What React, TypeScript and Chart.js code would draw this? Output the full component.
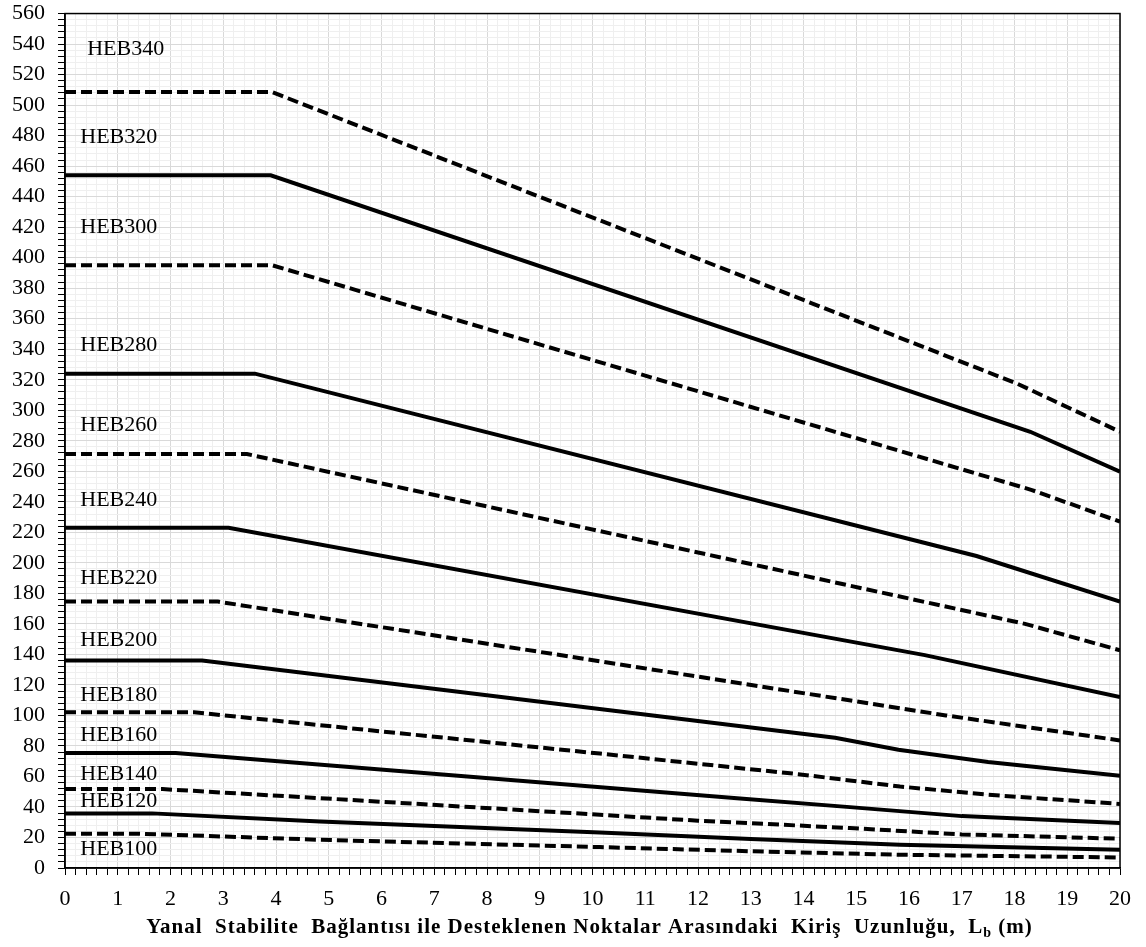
import { useEffect, useRef } from 'react';
import { Chart, registerables } from 'chart.js';

Chart.register(...registerables);

const seriesNames = ['HEB100', 'HEB120', 'HEB140', 'HEB160', 'HEB180', 'HEB200', 'HEB220', 'HEB240', 'HEB260', 'HEB280', 'HEB300', 'HEB320', 'HEB340'];

// Lb (m) and moment values for each profile
const heb100Lb = [0, 1.4, 4.83, 10.14, 13, 15.83, 20];
const heb100M = [22.5, 22.5, 18.5, 13.7, 11, 8.7, 6.9];
const heb120Lb = [0, 1.65, 4.83, 10.14, 13, 15.83, 20];
const heb120M = [35.8, 35.8, 30.5, 23.3, 19, 15.3, 12];
const heb140Lb = [0, 1.85, 4.83, 10.14, 12, 14.88, 17, 20];
const heb140M = [51.7, 51.7, 45.8, 34.9, 31, 26.2, 22, 19.2];
const heb160Lb = [0, 2.1, 12.8, 14.88, 17, 20];
const heb160M = [75.3, 75.3, 45.5, 39.9, 34, 29.5];
const heb180Lb = [0, 2.45, 10.14, 13.9, 15.83, 17.5, 20];
const heb180M = [102, 102, 75, 61.5, 53.4, 48, 42];
const heb200Lb = [0, 2.6, 14.6, 15.8, 17.5, 20];
const heb200M = [136, 136, 85.3, 77.5, 69.5, 60.5];
const heb220Lb = [0, 2.9, 16.7, 20];
const heb220M = [174.6, 174.6, 100, 83.6];
const heb240Lb = [0, 3.1, 16.3, 20];
const heb240M = [223, 223, 139.5, 112];
const heb260Lb = [0, 3.45, 18.2, 20];
const heb260M = [271.3, 271.3, 160, 142.7];
const heb280Lb = [0, 3.6, 17.28, 20];
const heb280M = [324, 324, 204.5, 174.6];
const heb300Lb = [0, 3.92, 18.33, 20];
const heb300M = [395.1, 395.1, 247.7, 227];
const heb320Lb = [0, 3.9, 18.3, 20];
const heb320M = [454, 454, 285.9, 259.7];
const heb340Lb = [0, 3.92, 18.04, 20];
const heb340M = [508.6, 508.6, 317.6, 285.9];

const seriesLb = [heb100Lb, heb120Lb, heb140Lb, heb160Lb, heb180Lb, heb200Lb, heb220Lb, heb240Lb, heb260Lb, heb280Lb, heb300Lb, heb320Lb, heb340Lb];
const seriesM = [heb100M, heb120M, heb140M, heb160M, heb180M, heb200M, heb220M, heb240M, heb260M, heb280M, heb300M, heb320M, heb340M];

// label anchor positions (data units)
const labelLb = [0.29, 0.29, 0.29, 0.29, 0.29, 0.29, 0.29, 0.29, 0.29, 0.29, 0.29, 0.29, 0.42];
const labelM = [12.4, 43.6, 61.2, 86.7, 113.5, 149.5, 189.9, 241.2, 290.3, 342.7, 420, 479.1, 536.3];

const xMin = 0, xMax = 20, xMinorStep = 0.2;
const yMin = 0, yMax = 560, yMinorStep = 4, yMajorStep = 20;

const FONT = "'Liberation Serif', 'Times New Roman', serif";

const overlayPlugin = {
  id: 'overlay',
  afterDraw(chart: any) {
    const { ctx, chartArea, scales } = chart;
    ctx.save();
    // frame
    ctx.strokeStyle = '#000';
    ctx.lineWidth = 1.5;
    ctx.strokeRect(chartArea.left, chartArea.top, chartArea.right - chartArea.left, chartArea.bottom - chartArea.top);
    // series labels
    ctx.fillStyle = '#000';
    ctx.font = `22px ${FONT}`;
    ctx.textAlign = 'left';
    ctx.textBaseline = 'middle';
    seriesNames.forEach((n, i) => {
      ctx.fillText(n, scales.x.getPixelForValue(labelLb[i]), scales.y.getPixelForValue(labelM[i]));
    });
    // axis title with subscript
    const bold = `bold 21px ${FONT}`;
    const sub = `bold 14px ${FONT}`;
    const main = 'Yanal  Stabilite  Bağlantısı ile Desteklenen Noktalar Arasındaki  Kiriş  Uzunluğu,  L';
    const tail = ' (m)';
    (ctx as any).letterSpacing = '1px';
    ctx.font = bold;
    const w1 = ctx.measureText(main).width;
    const w3 = ctx.measureText(tail).width;
    ctx.font = sub;
    const w2 = ctx.measureText('b').width;
    const total = w1 + w2 + w3;
    const cx = (chartArea.left + chartArea.right) / 2 - 3;
    let x = cx - total / 2;
    const y = 928;
    ctx.textAlign = 'left';
    ctx.textBaseline = 'middle';
    ctx.font = bold;
    ctx.fillText(main, x, y);
    x += w1;
    ctx.font = sub;
    ctx.fillText('b', x, y + 5);
    x += w2;
    ctx.font = bold;
    ctx.fillText(tail, x, y);
    ctx.restore();
  },
};

export default function App() {
  const ref = useRef<HTMLCanvasElement>(null);
  useEffect(() => {
    if (!ref.current) return;
    const datasets = seriesNames.map((n, i) => ({
      label: n,
      data: seriesLb[i].map((x, j) => ({ x, y: seriesM[i][j] })),
      borderColor: '#000',
      backgroundColor: '#000',
      borderWidth: 4,
      borderDash: i % 2 === 0 ? [11, 5] : [],
      pointRadius: 0,
      fill: false,
      tension: 0,
    }));
    const isMajor = (v: number, step: number) => Math.abs(v / step - Math.round(v / step)) < 1e-6;
    const chart = new Chart(ref.current, {
      type: 'line',
      data: { datasets },
      options: {
        animation: false,
        responsive: true,
        maintainAspectRatio: false,
        layout: { padding: { top: 0, right: 26, left: 0, bottom: 0 } },
        plugins: { legend: { display: false }, tooltip: { enabled: false } },
        scales: {
          x: {
            type: 'linear',
            min: xMin,
            max: xMax,
            afterFit: (s: any) => { s.height = 79; },
            ticks: {
              stepSize: xMinorStep,
              autoSkip: false,
              maxTicksLimit: 1000,
              maxRotation: 0,
              minRotation: 0,
              padding: 11,
              color: '#000',
              font: { family: FONT, size: 22 },
              callback: (v: any) => (isMajor(Number(v), 1) ? String(Math.round(Number(v))) : ''),
            },
            grid: {
              color: (c: any) => (isMajor(c.tick.value, 1) ? '#d9d9d9' : '#efefef'),
              lineWidth: 1,
              drawTicks: true,
              tickLength: 7,
              tickColor: '#000',
            },
            border: { display: true, color: '#000', width: 1.5 },
          },
          y: {
            type: 'linear',
            min: yMin,
            max: yMax,
            afterFit: (s: any) => { s.width = 65; },
            ticks: {
              stepSize: yMinorStep,
              autoSkip: false,
              maxTicksLimit: 1000,
              padding: 13,
              color: '#000',
              font: { family: FONT, size: 22, lineHeight: 0.05 },
              callback: (v: any) => (isMajor(Number(v), yMajorStep) ? String(Math.round(Number(v))) : ''),
            },
            grid: {
              color: (c: any) => (isMajor(c.tick.value, yMajorStep) ? '#d9d9d9' : '#efefef'),
              lineWidth: 1,
              drawTicks: true,
              tickLength: 7,
              tickColor: '#000',
            },
            border: { display: true, color: '#000', width: 1.5 },
          },
        },
      },
      plugins: [overlayPlugin],
    });
    return () => chart.destroy();
  }, []);
  return (
    <div style={{ position: 'fixed', left: 0, top: 0, width: 1146, height: 947, background: '#fff' }}>
      <canvas ref={ref} />
    </div>
  );
}
